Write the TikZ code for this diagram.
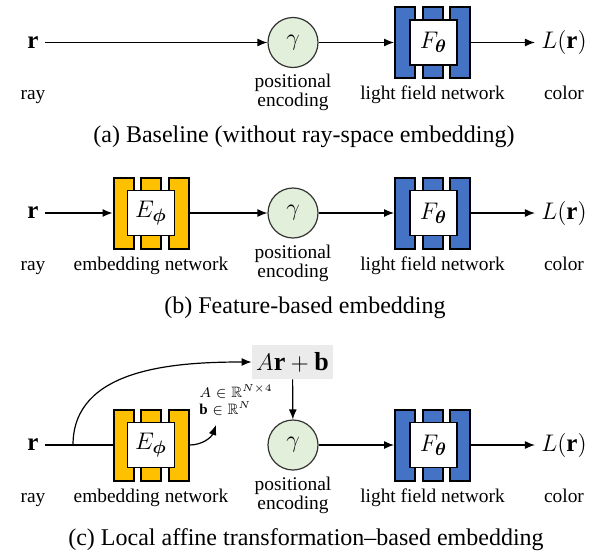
\documentclass[tikz,border=0pt]{standalone}
\usepackage{amsmath}
\usepackage{amssymb}
\usepackage{bm}
\usepackage{fontspec}
\setmainfont{Liberation Serif}
\usetikzlibrary{arrows.meta}

\definecolor{netblue}{HTML}{4472C4}
\definecolor{netyellow}{HTML}{FFC000}
\definecolor{encgreen}{HTML}{E2EFDA}
\definecolor{affgray}{HTML}{EBEBEB}

\begin{document}
\begin{tikzpicture}[
       x=0.5pt, y=-0.5pt,
       bar/.style={rectangle, draw=black, line width=1pt, minimum width=10pt, minimum height=35.5pt, inner sep=0pt},
       inbox/.style={rectangle, draw=black, line width=0.8pt, fill=white, minimum width=23.5pt, minimum height=22.5pt, inner sep=0pt, font=\fontsize{12.5}{14}\selectfont},
       enc/.style={circle, draw=black!80, line width=0.6pt, fill=encgreen, minimum size=25pt, inner sep=0pt, font=\fontsize{12.5}{14}\selectfont},
       sym/.style={inner sep=3pt, font=\fontsize{12.5}{14}\selectfont},
       lbl/.style={anchor=base, inner sep=0pt, font=\fontsize{9.7}{9.5}\selectfont},
       lbltwo/.style={align=center, inner sep=0pt, font=\fontsize{9.7}{9.5}\selectfont},
       captext/.style={anchor=base, inner sep=0pt, font=\fontsize{12}{15}\selectfont},
       arrow/.style={-{Latex[length=5pt,width=4pt]}, line width=0.6pt, black},
       link/.style={line width=0.6pt, black}
   ]
   \useasboundingbox (0,0) rectangle (614,557);

   % (a) baseline
   \node[sym] (ra) at (33,42.5) {$\mathbf{r}$};
   \node[enc] (ga) at (293,42.5) {$\gamma$};
   \foreach \dx [count=\i] in {-27.5,0,27.5}
     \node[bar, fill=netblue] (fa\i) at (432.5+\dx,42.5) {};
   \node[inbox] (fa) at (433.5,42.5) {$F_{\bm{\theta}}$};
   \node[sym] (la) at (564,42.5) {$L(\mathbf{r})$};

   \draw[arrow] (ra) -- (ga);
   \draw[arrow] (ga) -- (fa1);
   \draw[arrow] (fa3) -- (la);

   \node[lbl] (raya) at (33,99.5) {ray};
   \node[lbltwo] (posa) at (293,92.5) {positional\\encoding};
   \node[lbl] (lfna) at (432.5,99.5) {light field network};
   \node[lbl] (cola) at (564,99.5) {color};
   \node[captext] (capa) at (304,142.5) {(a) Baseline (without ray-space embedding)};

   % (b) feature-based
   \node[sym] (rb) at (33,213) {$\mathbf{r}$};
   \foreach \dx [count=\i] in {-27.5,0,27.5}
     \node[bar, fill=netyellow] (eb\i) at (151+\dx,213) {};
   \node[inbox] (eb) at (151,213) {$E_{\bm{\phi}}$};
   \node[enc] (gb) at (293,213) {$\gamma$};
   \foreach \dx [count=\i] in {-27.5,0,27.5}
     \node[bar, fill=netblue] (fb\i) at (432.5+\dx,213) {};
   \node[inbox] (fb) at (433.5,213) {$F_{\bm{\theta}}$};
   \node[sym] (lb) at (564,213) {$L(\mathbf{r})$};

   \draw[arrow] (rb) -- (eb1);
   \draw[arrow] (eb3) -- (gb);
   \draw[arrow] (gb) -- (fb1);
   \draw[arrow] (fb3) -- (lb);

   \node[lbl] (rayb) at (33,270) {ray};
   \node[lbl] (embb) at (151,270) {embedding network};
   \node[lbltwo] (posb) at (293,263) {positional\\encoding};
   \node[lbl] (lfnb) at (432.5,270) {light field network};
   \node[lbl] (colb) at (564,270) {color};
   \node[captext] (capb) at (305,313) {(b) Feature-based embedding};

   % (c) local affine
   \node[sym] (rc) at (33,445) {$\mathbf{r}$};
   \foreach \dx [count=\i] in {-27.5,0,27.5}
     \node[bar, fill=netyellow] (ec\i) at (151+\dx,445) {};
   \node[inbox] (ec) at (151,445) {$E_{\bm{\phi}}$};
   \node[fill=affgray, minimum width=40.5pt, minimum height=17pt, inner sep=0pt, font=\fontsize{13}{15}\selectfont] (aff) at (292.5,362) {$A\mathbf{r}+\mathbf{b}$};
   \node[enc] (gc) at (293,445) {$\gamma$};
   \foreach \dx [count=\i] in {-27.5,0,27.5}
     \node[bar, fill=netblue] (fc\i) at (432.5+\dx,445) {};
   \node[inbox] (fc) at (433.5,445) {$F_{\bm{\theta}}$};
   \node[sym] (lc) at (564,445) {$L(\mathbf{r})$};
   \node[anchor=west, align=left, inner sep=0pt, font=\fontsize{7.5}{8.2}\selectfont] (dims) at (199,400) {$A\in\mathbb{R}^{N\times 4}$\\$\mathbf{b}\in\mathbb{R}^{N}$};
   \coordinate (split) at (73,445);
   \coordinate (emb) at (216,425);

   \draw[link] (rc) -- (ec1);
   \draw[arrow] (split) to[out=90,in=180] (aff);
   \draw[arrow] (ec3) to[out=0,in=-110] (emb);
   \draw[arrow] (aff) -- (gc);
   \draw[arrow] (gc) -- (fc1);
   \draw[arrow] (fc3) -- (lc);

   \node[lbl] (rayc) at (33,502) {ray};
   \node[lbl] (embc) at (151,502) {embedding network};
   \node[lbltwo] (posc) at (293,495) {positional\\encoding};
   \node[lbl] (lfnc) at (432.5,502) {light field network};
   \node[lbl] (colc) at (564,502) {color};
   \node[captext] (capc) at (306,545) {(c) Local affine transformation--based embedding};
   \end{tikzpicture}
\end{document}
